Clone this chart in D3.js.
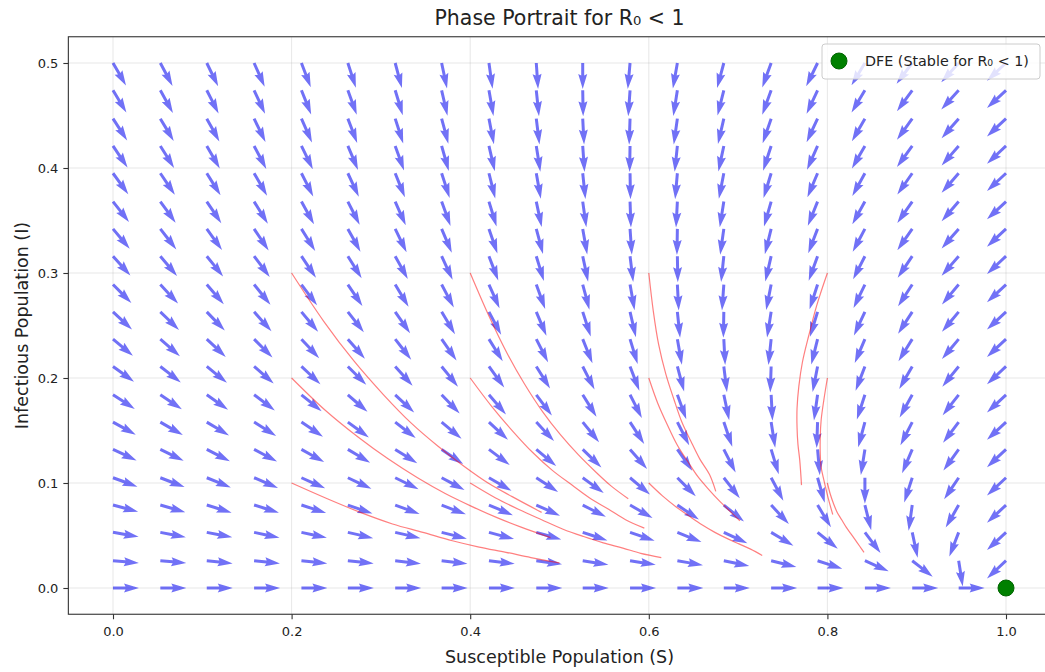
<!DOCTYPE html>
<html>
<head>
<meta charset="utf-8">
<script src="https://cdn.jsdelivr.net/npm/d3@7"></script>
<style>
  body { margin: 0; background: #fff; }
  svg text { font-family: "DejaVu Sans", sans-serif; fill: #222; }
</style>
</head>
<body>
<svg id="chart" width="1045" height="672"></svg>
<script>
// grid of the quiver (S across, I up)
const sValues = [0.000, 0.053, 0.105, 0.158, 0.211, 0.263, 0.316, 0.368, 0.421, 0.474,
                 0.526, 0.579, 0.632, 0.684, 0.737, 0.789, 0.842, 0.895, 0.947, 1.000];
const iValues = [0.000, 0.026, 0.053, 0.079, 0.105, 0.132, 0.158, 0.184, 0.211, 0.237,
                 0.263, 0.289, 0.316, 0.342, 0.368, 0.395, 0.421, 0.447, 0.474, 0.500];

// arrow direction in degrees (counter-clockwise from +S), one row per I value
const arrowAngles = [
  [0, 0, 0, 0, 0, 0, 0, 0, 0, 0, 0, 0, 0, 0, 0, 0, 0, 0, 0, null],
  [-5, -5, -6, -6, -6, -6, -7, -7, -7, -8, -9, -9, -10, -12, -14, -18, -24, -38, -81, -137],
  [-10, -11, -11, -12, -12, -13, -13, -14, -15, -16, -18, -19, -22, -25, -31, -39, -53, -78, -111, -137],
  [-15, -16, -17, -17, -18, -19, -20, -21, -23, -24, -27, -30, -34, -39, -47, -59, -76, -98, -120, -137],
  [-20, -21, -22, -23, -24, -25, -26, -28, -30, -33, -36, -40, -45, -52, -62, -74, -90, -108, -124, -137],
  [-25, -26, -27, -28, -29, -31, -32, -34, -37, -40, -44, -49, -55, -63, -73, -85, -99, -113, -126, -137],
  [-29, -30, -31, -32, -34, -36, -38, -40, -43, -47, -51, -57, -63, -71, -81, -92, -105, -117, -127, -137],
  [-33, -34, -35, -37, -39, -41, -43, -46, -49, -53, -58, -63, -70, -78, -87, -98, -108, -119, -128, -137],
  [-36, -38, -39, -41, -43, -45, -48, -51, -54, -58, -63, -69, -75, -83, -92, -101, -111, -120, -129, -137],
  [-40, -41, -43, -45, -47, -49, -52, -55, -58, -63, -68, -73, -80, -87, -96, -104, -113, -122, -130, -137],
  [-43, -44, -46, -48, -50, -52, -55, -59, -62, -67, -72, -77, -84, -91, -99, -107, -115, -123, -130, -137],
  [-45, -47, -49, -51, -53, -56, -59, -62, -66, -70, -75, -80, -87, -94, -101, -108, -116, -123, -130, -137],
  [-48, -50, -51, -53, -56, -58, -61, -65, -69, -73, -78, -83, -89, -96, -103, -110, -117, -124, -131, -137],
  [-50, -52, -54, -56, -58, -61, -64, -67, -71, -75, -80, -86, -91, -98, -104, -111, -118, -125, -131, -137],
  [-52, -54, -56, -58, -61, -63, -66, -70, -73, -78, -82, -88, -93, -99, -106, -112, -119, -125, -131, -137],
  [-54, -56, -58, -60, -63, -65, -68, -72, -76, -80, -84, -89, -95, -101, -107, -113, -119, -125, -131, -137],
  [-56, -58, -60, -62, -64, -67, -70, -74, -77, -81, -86, -91, -96, -102, -108, -114, -120, -126, -131, -137],
  [-57, -59, -61, -64, -66, -69, -72, -75, -79, -83, -87, -92, -98, -103, -109, -115, -120, -126, -131, -137],
  [-59, -61, -63, -65, -68, -70, -73, -77, -80, -84, -89, -94, -99, -104, -110, -115, -121, -126, -132, -137],
  [-60, -62, -64, -66, -69, -72, -75, -78, -82, -86, -90, -95, -100, -105, -110, -116, -121, -127, -132, -137]
];

// sample trajectories, [S, I] points
const trajectories = [
  [[0.200, 0.100], [0.240, 0.085], [0.277, 0.072], [0.313, 0.061], [0.347, 0.053], [0.380, 0.045], [0.410, 0.039], [0.440, 0.034], [0.468, 0.029], [0.500, 0.024]],
  [[0.200, 0.200], [0.238, 0.169], [0.274, 0.144], [0.308, 0.123], [0.341, 0.105], [0.372, 0.090], [0.401, 0.078], [0.430, 0.067], [0.457, 0.058], [0.490, 0.048]],
  [[0.200, 0.300], [0.236, 0.254], [0.270, 0.216], [0.303, 0.184], [0.334, 0.157], [0.364, 0.135], [0.393, 0.116], [0.420, 0.100], [0.447, 0.087], [0.480, 0.072]],
  [[0.400, 0.100], [0.428, 0.086], [0.454, 0.075], [0.480, 0.065], [0.504, 0.056], [0.527, 0.049], [0.549, 0.043], [0.571, 0.038], [0.591, 0.033], [0.614, 0.029]],
  [[0.400, 0.200], [0.424, 0.173], [0.448, 0.149], [0.470, 0.129], [0.492, 0.112], [0.514, 0.098], [0.535, 0.085], [0.555, 0.075], [0.574, 0.065], [0.595, 0.057]],
  [[0.400, 0.300], [0.421, 0.259], [0.441, 0.224], [0.461, 0.194], [0.481, 0.168], [0.501, 0.146], [0.521, 0.127], [0.540, 0.111], [0.558, 0.097], [0.577, 0.085]],
  [[0.600, 0.100], [0.615, 0.088], [0.631, 0.077], [0.646, 0.068], [0.660, 0.060], [0.674, 0.053], [0.688, 0.047], [0.701, 0.042], [0.714, 0.037], [0.727, 0.031]],
  [[0.600, 0.200], [0.610, 0.176], [0.621, 0.155], [0.632, 0.136], [0.644, 0.120], [0.655, 0.106], [0.667, 0.094], [0.679, 0.083], [0.691, 0.073], [0.702, 0.064]],
  [[0.600, 0.300], [0.605, 0.264], [0.611, 0.232], [0.619, 0.204], [0.628, 0.180], [0.637, 0.158], [0.647, 0.140], [0.657, 0.123], [0.668, 0.108], [0.675, 0.092]],
  [[0.800, 0.100], [0.803, 0.090], [0.807, 0.080], [0.811, 0.072], [0.816, 0.065], [0.821, 0.058], [0.826, 0.052], [0.831, 0.046], [0.836, 0.040], [0.841, 0.034]],
  [[0.800, 0.200], [0.796, 0.179], [0.793, 0.160], [0.792, 0.144], [0.792, 0.128], [0.793, 0.115], [0.796, 0.103], [0.799, 0.092], [0.802, 0.082], [0.806, 0.070]],
  [[0.800, 0.300], [0.788, 0.269], [0.779, 0.240], [0.772, 0.215], [0.768, 0.192], [0.766, 0.171], [0.766, 0.153], [0.767, 0.137], [0.769, 0.122], [0.771, 0.098]]
];

const dfePoint = [1.0, 0.0];
const xTicks = [0.0, 0.2, 0.4, 0.6, 0.8, 1.0];
const yTicks = [0.0, 0.1, 0.2, 0.3, 0.4, 0.5];

const svg = d3.select("#chart");
const plotLeft = 68.35, plotRight = 1050.65, plotTop = 36.75, plotBottom = 614.25;

const x = d3.scaleLinear().domain([-0.05, 1.05]).range([plotLeft, plotRight]);
const y = d3.scaleLinear().domain([-0.025, 0.525]).range([plotBottom, plotTop]);

svg.append("defs").append("clipPath").attr("id", "plotclip")
  .append("rect").attr("x", plotLeft).attr("y", plotTop)
  .attr("width", plotRight - plotLeft).attr("height", plotBottom - plotTop);

const plot = svg.append("g").attr("clip-path", "url(#plotclip)");

// grid
plot.append("g").selectAll("line").data(xTicks).enter().append("line")
  .attr("x1", d => x(d)).attr("x2", d => x(d)).attr("y1", plotTop).attr("y2", plotBottom)
  .attr("stroke", "#b0b0b0").attr("stroke-opacity", 0.3).attr("stroke-width", 1);
plot.append("g").selectAll("line").data(yTicks).enter().append("line")
  .attr("y1", d => y(d)).attr("y2", d => y(d)).attr("x1", plotLeft).attr("x2", plotRight)
  .attr("stroke", "#b0b0b0").attr("stroke-opacity", 0.3).attr("stroke-width", 1);

// quiver arrows, all the same length
const arrowLen = 26, shaft = 3;
const arrowPath = "M0," + (-shaft / 2) +
  "L" + (arrowLen - 4.5 * shaft) + "," + (-shaft / 2) +
  "L" + (arrowLen - 5 * shaft) + "," + (-1.5 * shaft) +
  "L" + arrowLen + ",0" +
  "L" + (arrowLen - 5 * shaft) + "," + (1.5 * shaft) +
  "L" + (arrowLen - 4.5 * shaft) + "," + (shaft / 2) +
  "L0," + (shaft / 2) + "Z";

const arrows = [];
for (let r = 0; r < iValues.length; r++) {
  for (let k = 0; k < sValues.length; k++) {
    if (arrowAngles[r][k] === null) continue;
    arrows.push({ s: sValues[k], i: iValues[r], angle: arrowAngles[r][k] });
  }
}

plot.append("g").selectAll("path").data(arrows).enter().append("path")
  .attr("d", arrowPath)
  .attr("transform", d => "translate(" + x(d.s) + "," + y(d.i) + ") rotate(" + (-d.angle) + ")")
  .attr("fill", "#1a1af0").attr("fill-opacity", 0.62);

// trajectories
const lineGenerator = d3.line()
  .x(d => x(d[0]))
  .y(d => y(d[1]))
  .curve(d3.curveCatmullRom);

plot.append("g").selectAll("path").data(trajectories).enter().append("path")
  .attr("d", lineGenerator)
  .attr("fill", "none")
  .attr("stroke", "#ff0000")
  .attr("stroke-opacity", 0.5)
  .attr("stroke-width", 1.2);

// disease free equilibrium
svg.append("circle")
  .attr("cx", x(dfePoint[0])).attr("cy", y(dfePoint[1])).attr("r", 8)
  .attr("fill", "#008000").attr("stroke", "#006400").attr("stroke-width", 1);

// axes
const xAxis = d3.axisBottom(x).tickValues(xTicks).tickFormat(d3.format(".1f")).tickSize(5).tickPadding(8);
const yAxis = d3.axisLeft(y).tickValues(yTicks).tickFormat(d3.format(".1f")).tickSize(5).tickPadding(5);

const gx = svg.append("g").attr("transform", "translate(0," + plotBottom + ")").call(xAxis);
const gy = svg.append("g").attr("transform", "translate(" + plotLeft + ",0)").call(yAxis);
[gx, gy].forEach(ax => {
  ax.select(".domain").remove();
  ax.selectAll("line").attr("stroke", "#333").attr("stroke-width", 1.1);
  ax.selectAll("text").attr("font-size", 13).attr("fill", "#222")
    .style("font-family", "'DejaVu Sans', sans-serif");
});

// spines
svg.append("rect")
  .attr("x", plotLeft).attr("y", plotTop)
  .attr("width", plotRight - plotLeft).attr("height", plotBottom - plotTop)
  .attr("fill", "none").attr("stroke", "#333").attr("stroke-width", 1.1);

// titles
svg.append("text").attr("x", (plotLeft + plotRight) / 2).attr("y", 25)
  .attr("text-anchor", "middle").attr("font-size", 20.5)
  .text("Phase Portrait for R\u2080 < 1");
svg.append("text").attr("x", (plotLeft + plotRight) / 2).attr("y", 663)
  .attr("text-anchor", "middle").attr("font-size", 17.5)
  .text("Susceptible Population (S)");
svg.append("text")
  .attr("transform", "translate(28," + ((plotTop + plotBottom) / 2) + ") rotate(-90)")
  .attr("text-anchor", "middle").attr("font-size", 17.5)
  .text("Infectious Population (I)");

// legend
const legend = svg.append("g").attr("transform", "translate(822,44)");
legend.append("rect")
  .attr("width", 218).attr("height", 35).attr("rx", 3)
  .attr("fill", "#fff").attr("fill-opacity", 0.8)
  .attr("stroke", "#ccc").attr("stroke-width", 1);
legend.append("circle").attr("cx", 17).attr("cy", 17).attr("r", 8)
  .attr("fill", "#008000").attr("stroke", "#006400").attr("stroke-width", 1);
legend.append("text").attr("x", 43).attr("y", 22).attr("font-size", 14.3)
  .text("DFE (Stable for R\u2080 < 1)");
</script>
</body>
</html>
